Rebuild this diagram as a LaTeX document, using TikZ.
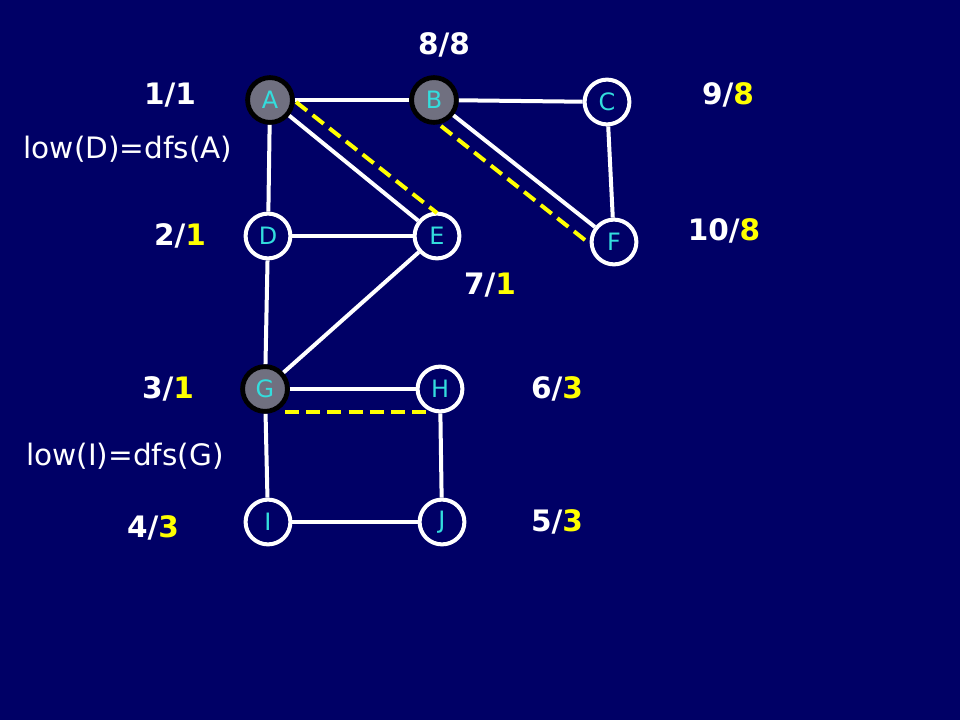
\documentclass[tikz,border=0pt]{standalone}
\usepackage{fontspec}
\setmainfont{DejaVu Sans}
\definecolor{navy}{HTML}{000066}
\definecolor{aqua}{HTML}{33DDDD}
\definecolor{greynode}{HTML}{707080}
\definecolor{lowyel}{HTML}{FFFF00}
\begin{document}
\begin{tikzpicture}
		[x=0.025cm,y=-0.025cm,every node/.style={shape = circle, draw=white, line width=1mm, fill = navy, text=aqua, minimum size = 1.12cm, inner sep=0pt, font=\fontsize{17}{17}\selectfont}]
		\fill[navy] (0,0) rectangle (960,720);
		\tikzset{visited/.style={fill=greynode, draw=black, line width=1.2mm},
			num/.style={draw=none, fill=none, text=white, minimum size=0pt, font=\fontsize{21}{21}\selectfont\bfseries},
			lowtext/.style={draw=none, fill=none, text=white, minimum size=0pt, font=\fontsize{21}{21}\selectfont},
			back/.style={line width=1mm, lowyel, dash pattern=on 3.5mm off 1.8mm}}
		\node[visited] (A) at (270,100) {A};
		\node[visited] (B) at (434,100) {B};
		\node (C) at (607,102) {C};
		\node (D) at (268,236) {D};
		\node (E) at (437,236) {E};
		\node (F) at (614,242) {F};
		\node[visited] (G) at (265,389) {G};
		\node (H) at (440,389) {H};
		\node (I) at (268,522) {I};
		\node (J) at (442,522) {J};
		\foreach \from/\to in {A/B,B/C,A/D,A/E,B/F,C/F,D/E,D/G,E/G,G/H,G/I,H/J,I/J}
		\draw[line width=1mm,white]  (\from) -- (\to);
		%back edges
		\coordinate (ae1) at (296,102);
		\coordinate (ae2) at (437,213);
		\coordinate (bf1) at (441,126);
		\coordinate (bf2) at (590,244);
		\coordinate (gh1) at (285,412);
		\coordinate (gh2) at (428,412);
		\draw[back] (ae1) -- (ae2);
		\draw[back] (bf1) -- (bf2);
		\draw[back] (gh1) -- (gh2);
		%dfs/low labels
		\node[num] (lA) at (170,95) {1/1};
		\node[num] (lB) at (444,45) {8/8};
		\node[num] (lC) at (728,95) {9/\textcolor{lowyel}{8}};
		\node[num] (lD) at (180,236) {2/\textcolor{lowyel}{1}};
		\node[num] (lE) at (490,285) {7/\textcolor{lowyel}{1}};
		\node[num] (lF) at (724,231) {10/\textcolor{lowyel}{8}};
		\node[num] (lG) at (168,389) {3/\textcolor{lowyel}{1}};
		\node[num] (lH) at (557,389) {6/\textcolor{lowyel}{3}};
		\node[num] (lI) at (153,528) {4/\textcolor{lowyel}{3}};
		\node[num] (lJ) at (557,522) {5/\textcolor{lowyel}{3}};
		\node[lowtext] (tD) at (128,149) {low(D)=dfs(A)};
		\node[lowtext] (tI) at (125,456) {low(I)=dfs(G)};
	\end{tikzpicture}
\end{document}
